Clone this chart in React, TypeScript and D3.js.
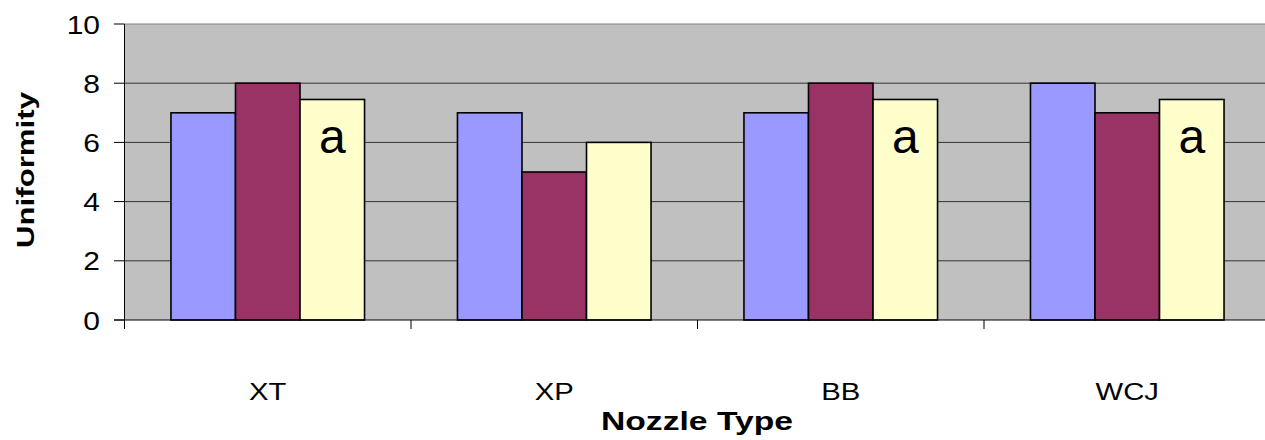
import React from "react";
import * as d3 from "d3";

const categories = ["XT", "XP", "BB", "WCJ"];
const seriesNames = ["S1", "S2", "S3"];
const series1 = [7, 7, 7, 8];
const series2 = [8, 5, 8, 7];
const series3 = [7.45, 6, 7.45, 7.45];
const letters = ["a", "", "a", "a"];
const yTicks = [0, 2, 4, 6, 8, 10];
const colors = ["#9999FF", "#993366", "#FFFFCC"];

export default function App() {
  const W = 1265, H = 440;
  const left = 124.5, right = 1270.5, top = 24, bottom = 320;
  const x = d3.scaleBand<string>().domain(categories).range([left, right]).paddingInner(0).paddingOuter(0);
  const inner = d3.scaleBand<string>().domain(seriesNames).range([0, x.bandwidth()]).paddingInner(0).paddingOuter(0.72);
  const y = d3.scaleLinear().domain([0, 10]).range([bottom, top]);
  const data = [series1, series2, series3];
  const font = "Liberation Sans, Arial, sans-serif";
  return (
    <svg width={W} height={H} style={{ position: "absolute", left: 0, top: 0, background: "#fff" }} fontFamily={font}>
      <rect x={left} y={top} width={right - left} height={bottom - top} fill="#C0C0C0" />
      {yTicks.filter(t => t > 0).map(t => (
        <line key={t} x1={left} x2={right} y1={y(t)} y2={y(t)} stroke={t === 10 ? "#808080" : "#333"} strokeWidth={1} />
      ))}
      {categories.map((c, ci) =>
        data.map((s, si) => (
          <rect key={c + si} x={(x(c) as number) + (inner(seriesNames[si]) as number)} y={y(s[ci])}
            width={inner.bandwidth()} height={y(0) - y(s[ci])} fill={colors[si]} stroke="#000" strokeWidth={1.6} />
        ))
      )}
      {categories.map((c, ci) => letters[ci] ? (
        <text key={"l" + c} x={(x(c) as number) + (inner(seriesNames[2]) as number) + inner.bandwidth() / 2}
          y={153} textAnchor="middle" fontSize={48}>{letters[ci]}</text>
      ) : null)}
      <line x1={left} x2={left} y1={top} y2={bottom + 9} stroke="#000" strokeWidth={1} />
      <line x1={114} x2={right} y1={bottom} y2={bottom} stroke="#000" strokeWidth={1} />
      {yTicks.map(t => (
        <g key={"t" + t}>
          <line x1={114} x2={left} y1={y(t)} y2={y(t)} stroke="#000" />
          <text transform={`translate(100,${y(t) + 9.5}) scale(1.2,1)`} textAnchor="end" fontSize={25}>{t}</text>
        </g>
      ))}
      {categories.map((c) => (
        <g key={"c" + c}>
          <line x1={(x(c) as number) + x.bandwidth()} x2={(x(c) as number) + x.bandwidth()} y1={bottom} y2={bottom + 9} stroke="#000" />
          <text transform={`translate(${(x(c) as number) + x.bandwidth() / 2},400) scale(1.22,1)`} textAnchor="middle" fontSize={24}>{c}</text>
        </g>
      ))}
      <text transform="translate(697,430) scale(1.32,1)" textAnchor="middle" fontSize={25.5} fontWeight="bold">Nozzle Type</text>
      <text transform="translate(34,170) rotate(-90) scale(1.3,1)" textAnchor="middle" fontSize={24} fontWeight="bold">Uniformity</text>
    </svg>
  );
}
